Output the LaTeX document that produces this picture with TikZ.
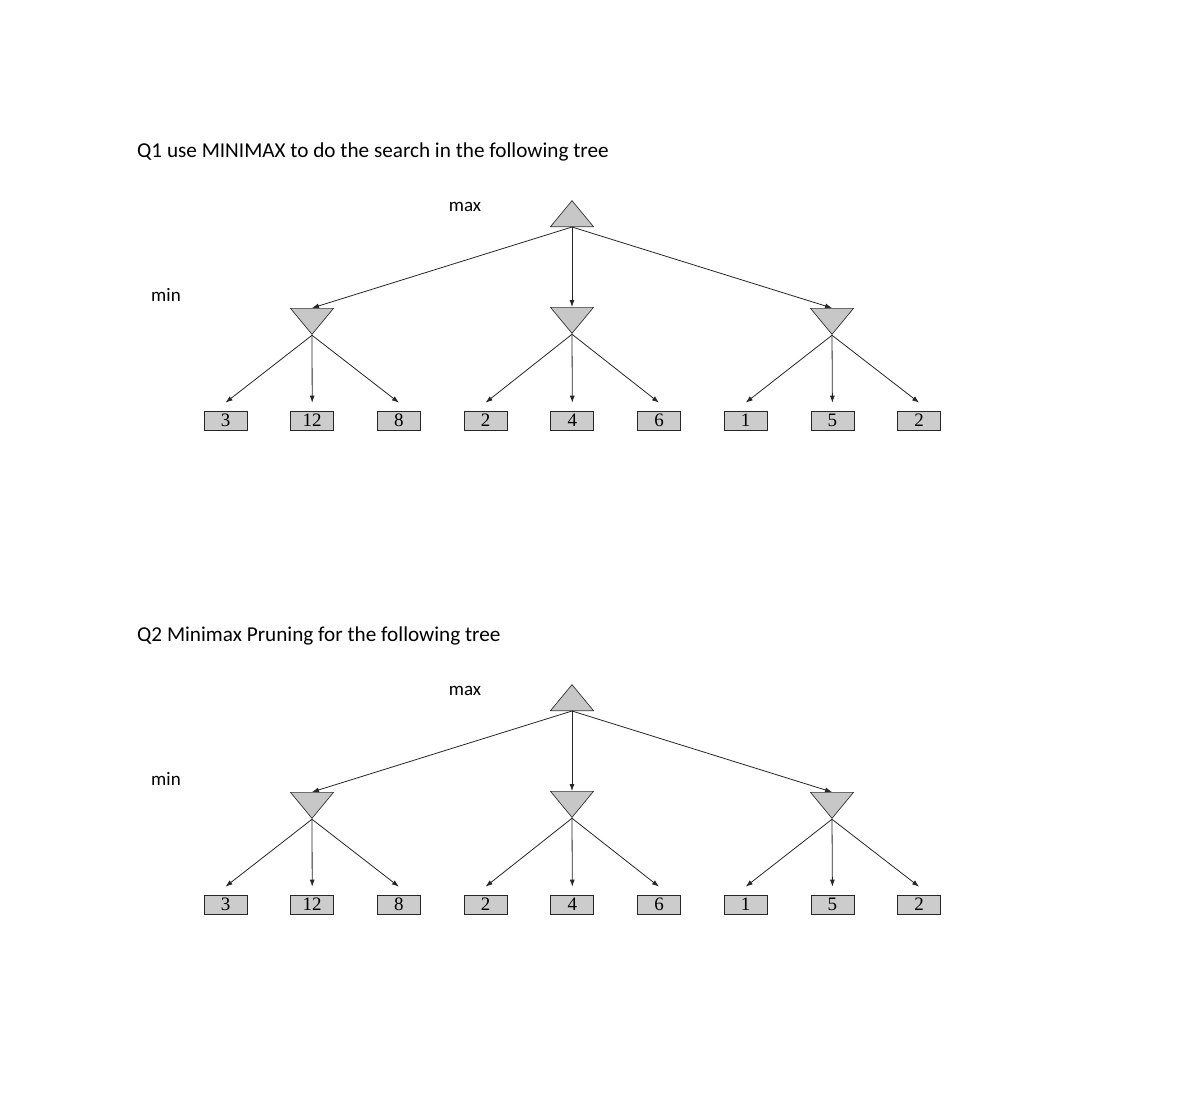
\documentclass[tikz,border=0pt]{standalone}
\usepackage{fontspec}
\setmainfont{Carlito}
\newfontfamily\leaffont{Liberation Serif}
\usetikzlibrary{shapes,arrows.meta,positioning,shapes.geometric}

\begin{document}
\begin{tikzpicture}[
        x=1pt, y=-1pt,
        maxnode/.style={isosceles triangle, shape border rotate=90, isosceles triangle stretches, draw=black!80, fill=black!22, minimum width=43pt, minimum height=26pt, inner sep=0pt, line width=0.7pt},
        minnode/.style={maxnode, shape border rotate=-90},
        leaf/.style={rectangle, draw=black!85, fill=black!20, minimum width=43pt, minimum height=19pt, inner sep=0pt, line width=0.7pt, font=\leaffont\fontsize{19}{19}\selectfont},
        heading/.style={font=\fontsize{21.2}{21.2}\selectfont, inner sep=0pt},
        levellabel/.style={font=\fontsize{19}{19}\selectfont, inner sep=0pt},
        line/.style={draw=black!85, -{Latex[length=7pt,width=5pt]}, line width=0.8pt}
    ]
    \useasboundingbox (0,0) rectangle (1179,1103);
    \foreach \t/\dy/\q in {1/0/{Q1 use MINIMAX to do the search in the following tree},
                           2/484/{Q2 Minimax Pruning for the following tree}} {
        % Title and level labels
        \node[heading, anchor=base west] (q\t) at (137,157.5+\dy) {\q};
        \node[levellabel] (lmax\t) at (465,207+\dy) {max};
        \node[levellabel] (lmin\t) at (166,295+\dy) {min};

        % Max and min nodes
        \node[maxnode, anchor=south] (r\t) at (572,227+\dy) {};
        \node[minnode, anchor=north] (m\t-1) at (312,308+\dy) {};
        \node[minnode, anchor=north] (m\t-2) at (572,307+\dy) {};
        \node[minnode, anchor=north] (m\t-3) at (832,308+\dy) {};

        % Leaves
        \foreach \v [count=\i] in {3,12,8,2,4,6,1,5,2}
            \node[leaf] (l\t-\i) at ({225.5+86.7*(\i-1)},420.5+\dy) {\v};

        % Connections
        \foreach \j in {1,2,3} {
            \draw[line] (r\t.south) -- (m\t-\j.north);
            \foreach \k in {1,2,3} {
                \pgfmathtruncatemacro\n{3*(\j-1)+\k}
                \draw[line] (m\t-\j.south) -- ([yshift=8pt]l\t-\n.north);
            }
        }
    }
\end{tikzpicture}
\end{document}
